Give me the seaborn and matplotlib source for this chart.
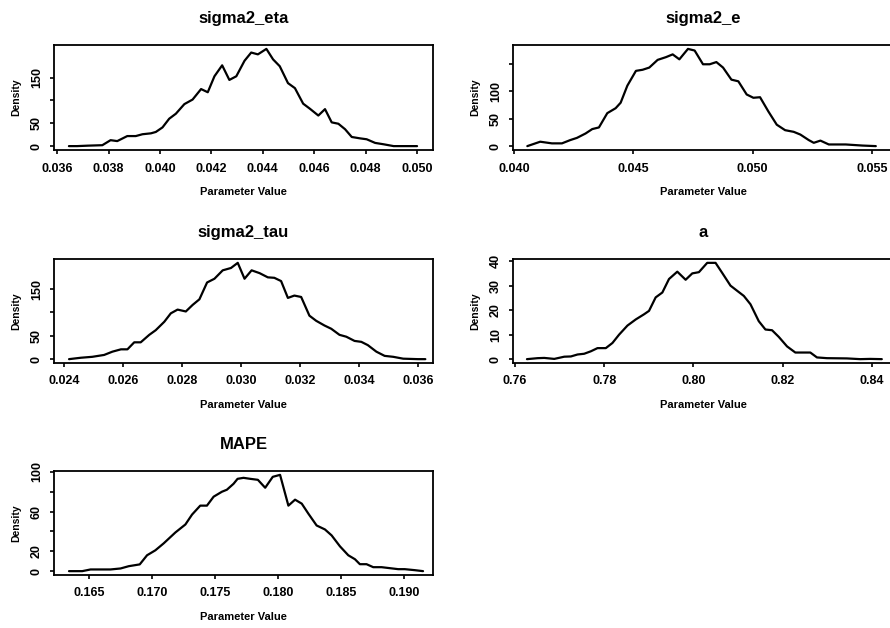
import numpy as np
import pandas as pd
import seaborn as sns
import matplotlib.pyplot as plt

# Posterior density curves
eta_x = [0.03646, 0.03678, 0.0372, 0.03776, 0.03808, 0.03834, 0.03873, 0.03906, 0.03932, 0.03965,
         0.03984, 0.0401, 0.04036, 0.04062, 0.04095, 0.04127, 0.0416, 0.04186, 0.04212, 0.04242,
         0.0427, 0.04297, 0.04329, 0.04355, 0.04381, 0.04414, 0.0444, 0.04466, 0.04498, 0.04525,
         0.04557, 0.04583, 0.04616, 0.04642, 0.04668, 0.04694, 0.0472, 0.04746, 0.04778, 0.04804,
         0.04837, 0.0487, 0.04909, 0.04948, 0.0500]
eta_density = [0, 0, 1, 2, 13, 11, 22, 22, 26, 28,
               31, 41, 60, 71, 92, 102, 125, 118, 153, 177,
               145, 153, 187, 205, 201, 213, 190, 175, 138, 127,
               93, 82, 67, 81, 52, 49, 37, 20, 17, 15,
               7, 4, 0, 0, 0]

e_x = [0.04056, 0.0411, 0.04159, 0.04201, 0.04236, 0.04264, 0.043, 0.04328, 0.04356, 0.04391,
       0.04426, 0.04447, 0.04475, 0.04511, 0.04539, 0.04567, 0.04602, 0.04637, 0.04665, 0.04693,
       0.04729, 0.04757, 0.04792, 0.0482, 0.04848, 0.04876, 0.04911, 0.0494, 0.04975, 0.05003,
       0.05031, 0.05066, 0.05101, 0.05136, 0.05172, 0.052, 0.05235, 0.05256, 0.05284, 0.05319,
       0.0539, 0.0546, 0.05516]
e_density = [0, 8, 5, 5, 11, 15, 23, 31, 34, 60,
             69, 79, 110, 137, 139, 143, 157, 162, 167, 158,
             177, 174, 149, 149, 153, 143, 121, 118, 94, 88,
             89, 63, 39, 29, 26, 21, 11, 6, 10, 3,
             3, 1, 0]

tau_x = [0.02417, 0.02457, 0.02496, 0.02536, 0.02564, 0.02593, 0.02615, 0.02638, 0.0266, 0.02689,
         0.02711, 0.0274, 0.02762, 0.02785, 0.02813, 0.02836, 0.02859, 0.02885, 0.0291, 0.02938,
         0.02966, 0.02989, 0.03012, 0.03036, 0.03063, 0.03091, 0.03113, 0.03136, 0.03159, 0.03181,
         0.03204, 0.03232, 0.03255, 0.03283, 0.03306, 0.03334, 0.03357, 0.03385, 0.03408, 0.0343,
         0.03459, 0.03487, 0.03516, 0.0355, 0.0360, 0.03625]
tau_density = [0, 3, 5, 9, 16, 21, 21, 36, 36, 52,
               62, 80, 98, 106, 102, 116, 128, 164, 172, 190,
               195, 206, 172, 190, 184, 175, 174, 167, 131, 136,
               133, 93, 82, 72, 65, 52, 48, 39, 37, 30,
               16, 7, 5, 1, 0, 0]

a_x = [0.76268, 0.76507, 0.76656, 0.7688, 0.77104, 0.77253, 0.77402, 0.77551, 0.777, 0.7785,
       0.78036, 0.78185, 0.78334, 0.78521, 0.78707, 0.78893, 0.79005, 0.79154, 0.79304, 0.79453,
       0.79639, 0.79826, 0.79975, 0.80124, 0.8031, 0.80497, 0.80646, 0.80832, 0.80981, 0.81131,
       0.8128, 0.81466, 0.81615, 0.81764, 0.81914, 0.821, 0.82286, 0.82547, 0.82622, 0.82771,
       0.82995, 0.83442, 0.8374, 0.83964, 0.84225]
a_density = [0, 0.4, 0.5, 0.1, 1.0, 1.1, 1.9, 2.2, 3.2, 4.5,
             4.5, 6.6, 10.0, 13.7, 16.2, 18.3, 19.7, 25.2, 27.2, 32.7,
             35.7, 32.4, 35.0, 35.5, 39.3, 39.3, 35.2, 30.0, 27.9, 25.8,
             22.4, 15.5, 12.1, 11.8, 9.1, 5.2, 2.7, 2.7, 2.7, 0.7,
             0.4, 0.3, 0, 0.1, 0]

mape_x = [0.16342, 0.16447, 0.16513, 0.16671, 0.16751, 0.16816, 0.16903, 0.16961, 0.17027, 0.17093,
          0.17186, 0.17265, 0.17318, 0.17383, 0.17436, 0.17489, 0.17555, 0.17594, 0.17647, 0.17679,
          0.17726, 0.17779, 0.1784, 0.17898, 0.17958, 0.18016, 0.18082, 0.18135, 0.18188, 0.1824,
          0.18306, 0.18372, 0.18425, 0.18491, 0.18557, 0.1861, 0.18649, 0.18702, 0.18755, 0.18821,
          0.18887, 0.18953, 0.19005, 0.19084, 0.1915]
mape_density = [0, 0, 1.7, 1.7, 2.7, 5, 6.8, 16, 21, 28,
                39, 47, 57, 66, 66, 75, 80, 82, 88, 93,
                94, 93, 92, 84, 95, 97, 66, 72, 68, 58,
                46, 42, 36, 25, 16, 12, 7, 7, 4, 4,
                3, 2, 2, 1, 0]

titles = ['sigma2_eta', 'sigma2_e', 'sigma2_tau', 'a', 'MAPE']
xs = [eta_x, e_x, tau_x, a_x, mape_x]
ys = [eta_density, e_density, tau_density, a_density, mape_density]
x_ticks = [np.arange(0.036, 0.0505, 0.002), [0.040, 0.045, 0.050, 0.055],
           np.arange(0.024, 0.0365, 0.002), [0.76, 0.78, 0.80, 0.82, 0.84],
           [0.165, 0.170, 0.175, 0.180, 0.185, 0.190]]
x_fmt = ['{:.3f}', '{:.3f}', '{:.3f}', '{:.2f}', '{:.3f}']
x_lims = [(0.03588, 0.05062), (0.03996, 0.05588), (0.02366, 0.03651),
          (0.75955, 0.84476), (0.16223, 0.19229)]
y_ticks = [[0, 50, 100, 150], [0, 50, 100, 150], [0, 50, 100, 150], [0, 10, 20, 30, 40],
           [0, 20, 40, 60, 80, 100]]
y_labels = [['0', '50', '', '150'], ['0', '50', '100', ''], ['0', '50', '', '150'],
            ['0', '10', '20', '30', '40'], ['0', '20', '', '60', '', '100']]

sns.set_theme(style='ticks')
plt.rcParams['font.family'] = ['Liberation Sans', 'DejaVu Sans']
plt.rcParams['font.weight'] = 'bold'
plt.rcParams['text.color'] = 'black'
plt.rcParams['axes.labelcolor'] = 'black'
plt.rcParams['xtick.color'] = 'black'
plt.rcParams['ytick.color'] = 'black'

fig = plt.figure(figsize=(8.9, 6.28), dpi=100)
# panel boxes in pixels: left, right, top, bottom
cols = [(54, 433), (513, 893)]
rows = [(45, 150), (259, 363), (471, 575)]

for i, title in enumerate(titles):
    c0, c1 = cols[i % 2]
    r0, r1 = rows[i // 2]
    ax = fig.add_axes([c0 / 890, 1 - r1 / 628, (c1 - c0) / 890, (r1 - r0) / 628])
    df = pd.DataFrame({'value': xs[i], 'density': ys[i]})
    sns.lineplot(data=df, x='value', y='density', ax=ax, color='black', linewidth=1.6,
                 estimator=None, sort=False)
    ax.set_xlim(*x_lims[i])
    ym = max(ys[i])
    ax.set_ylim(-0.04 * ym, 1.04 * ym)
    ax.set_xticks(x_ticks[i])
    ax.set_xticklabels([x_fmt[i].format(v) for v in x_ticks[i]], fontsize=9, fontweight='bold')
    ax.set_yticks(y_ticks[i])
    ax.set_yticklabels(y_labels[i], fontsize=9, fontweight='bold', rotation=90, va='center')
    ax.tick_params(direction='out', length=3, width=1.2, color='black', pad=6)
    ax.tick_params(axis='y', pad=5)
    for s in ax.spines.values():
        s.set_visible(True)
        s.set_color('black')
        s.set_linewidth(1.3)
    ax.set_title(title, fontsize=12, fontweight='bold', pad=16, color='black')
    ax.set_xlabel('Parameter Value', fontsize=8, fontweight='bold', labelpad=9)
    ax.set_ylabel('Density', fontsize=7.5, fontweight='bold', labelpad=7)

fig.savefig('out.png', dpi=100, facecolor='white')
